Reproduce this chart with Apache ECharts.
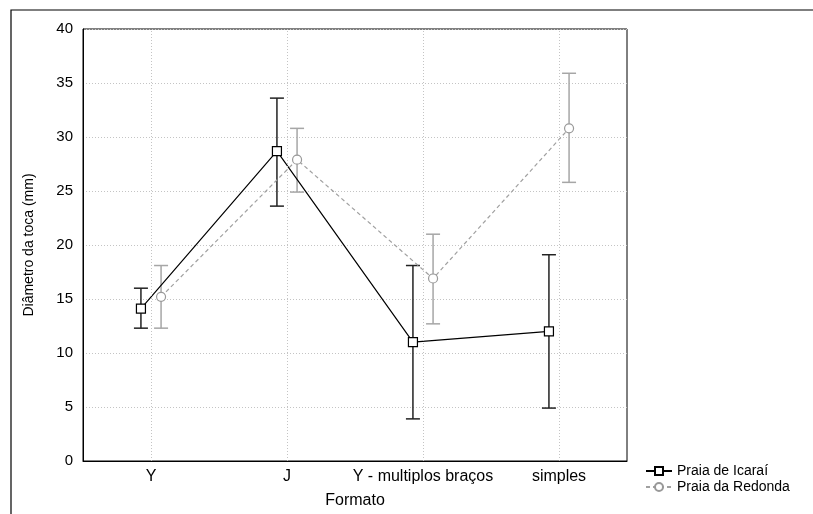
<!DOCTYPE html>
<html>
<head>
<meta charset="utf-8">
<style>
  html, body { margin: 0; padding: 0; background: #fff; }
  #chart { width: 813px; height: 514px; }
</style>
<script src="https://unpkg.com/echarts@6/dist/echarts.min.js"></script>
</head>
<body>
<div id="chart"></div>
<script>
const categories = ["Y", "J", "Y - multiplos braços", "simples"];

const icaraiMean = [14.1, 28.7, 11.0, 12.0];
const icaraiLow = [12.3, 23.6, 3.9, 4.9];
const icaraiHigh = [16.0, 33.6, 18.1, 19.1];

const redondaMean = [15.2, 27.9, 16.9, 30.8];
const redondaLow = [12.3, 24.9, 12.7, 25.8];
const redondaHigh = [18.1, 30.8, 21.0, 35.9];

const yTicks = [0, 5, 10, 15, 20, 25, 30, 35, 40];

// side-by-side dodge so the two groups don't overlap
const dodge = 0.074;
const font = "Liberation Sans, Arial, sans-serif";
const gridStyle = { color: "#c4c4c4", type: [1, 2], width: 1 };

function points(values, shift) {
  return values.map((v, i) => [i + shift, v]);
}

function bars(low, high, shift) {
  return low.map((v, i) => [i + shift, v, high[i]]);
}

function errorBar(color) {
  return function (params, api) {
    const x = api.value(0);
    const lo = api.coord([x, api.value(1)]);
    const hi = api.coord([x, api.value(2)]);
    const half = 7;
    const style = { stroke: color, lineWidth: 1.5 };
    return {
      type: "group",
      children: [
        { type: "line", shape: { x1: lo[0], y1: lo[1], x2: hi[0], y2: hi[1] }, style },
        { type: "line", shape: { x1: hi[0] - half, y1: hi[1], x2: hi[0] + half, y2: hi[1] }, style },
        { type: "line", shape: { x1: lo[0] - half, y1: lo[1], x2: lo[0] + half, y2: lo[1] }, style },
      ],
    };
  };
}

const chart = echarts.init(document.getElementById("chart"));

chart.setOption({
  animation: false,
  textStyle: { fontFamily: font },
  graphic: [
    {
      type: "rect",
      shape: { x: 11, y: 10, width: 830, height: 530 },
      style: { fill: "none", stroke: "#000", lineWidth: 1.2 },
      silent: true,
    },
  ],
  grid: {
    left: 83,
    right: 186,
    top: 29,
    bottom: 53,
    show: true,
    borderColor: "#000",
    borderWidth: 1,
  },
  legend: {
    orient: "vertical",
    left: 640,
    top: 459,
    itemGap: 2,
    itemWidth: 26,
    itemHeight: 10,
    textStyle: { fontSize: 14, color: "#000", fontFamily: font },
    data: ["Praia de Icaraí", "Praia da Redonda"],
  },
  xAxis: [
    {
      type: "category",
      data: categories,
      boundaryGap: true,
      axisLine: { lineStyle: { color: "#000", width: 1 } },
      axisTick: { show: false },
      axisLabel: { fontSize: 16, color: "#000", margin: 8, interval: 0 },
      splitLine: { show: false },
      name: "Formato",
      nameLocation: "middle",
      nameGap: 32,
      nameTextStyle: { fontSize: 16, color: "#000" },
      z: 5,
    },
    {
      type: "value",
      min: -0.5,
      max: categories.length - 0.5,
      show: false,
    },
  ],
  yAxis: {
    type: "value",
    min: yTicks[0],
    max: yTicks[yTicks.length - 1],
    interval: 5,
    axisLine: { show: true, onZero: false, lineStyle: { color: "#000", width: 1 } },
    axisTick: { show: false },
    axisLabel: { fontSize: 15, color: "#000", margin: 10 },
    splitLine: { show: true, lineStyle: gridStyle },
    name: "Diâmetro da toca (mm)",
    nameLocation: "middle",
    nameGap: 47,
    nameTextStyle: { fontSize: 14, color: "#000" },
  },
  series: [
    {
      name: "Praia de Icaraí err",
      type: "custom",
      xAxisIndex: 1,
      renderItem: errorBar("#222"),
      data: bars(icaraiLow, icaraiHigh, -dodge),
      encode: { x: 0, y: [1, 2] },
      z: 2,
      // vertical grid lines at the category centres
      markLine: {
        silent: true,
        symbol: "none",
        label: { show: false },
        lineStyle: gridStyle,
        data: categories.map((c, i) => ({ xAxis: i })),
      },
    },
    {
      name: "Praia da Redonda err",
      type: "custom",
      xAxisIndex: 1,
      renderItem: errorBar("#a6a6a6"),
      data: bars(redondaLow, redondaHigh, dodge),
      encode: { x: 0, y: [1, 2] },
      z: 2,
    },
    {
      name: "Praia da Redonda",
      type: "line",
      xAxisIndex: 1,
      data: points(redondaMean, dodge),
      symbol: "circle",
      symbolSize: 9,
      itemStyle: { color: "#fff", borderColor: "#999", borderWidth: 1.2 },
      lineStyle: { color: "#a0a0a0", width: 1.2, type: [4, 3] },
      z: 3,
    },
    {
      name: "Praia de Icaraí",
      type: "line",
      xAxisIndex: 1,
      data: points(icaraiMean, -dodge),
      symbol: "rect",
      symbolSize: 9,
      itemStyle: { color: "#fff", borderColor: "#000", borderWidth: 1.2 },
      lineStyle: { color: "#000", width: 1.2 },
      z: 4,
    },
  ],
});
</script>
</body>
</html>
